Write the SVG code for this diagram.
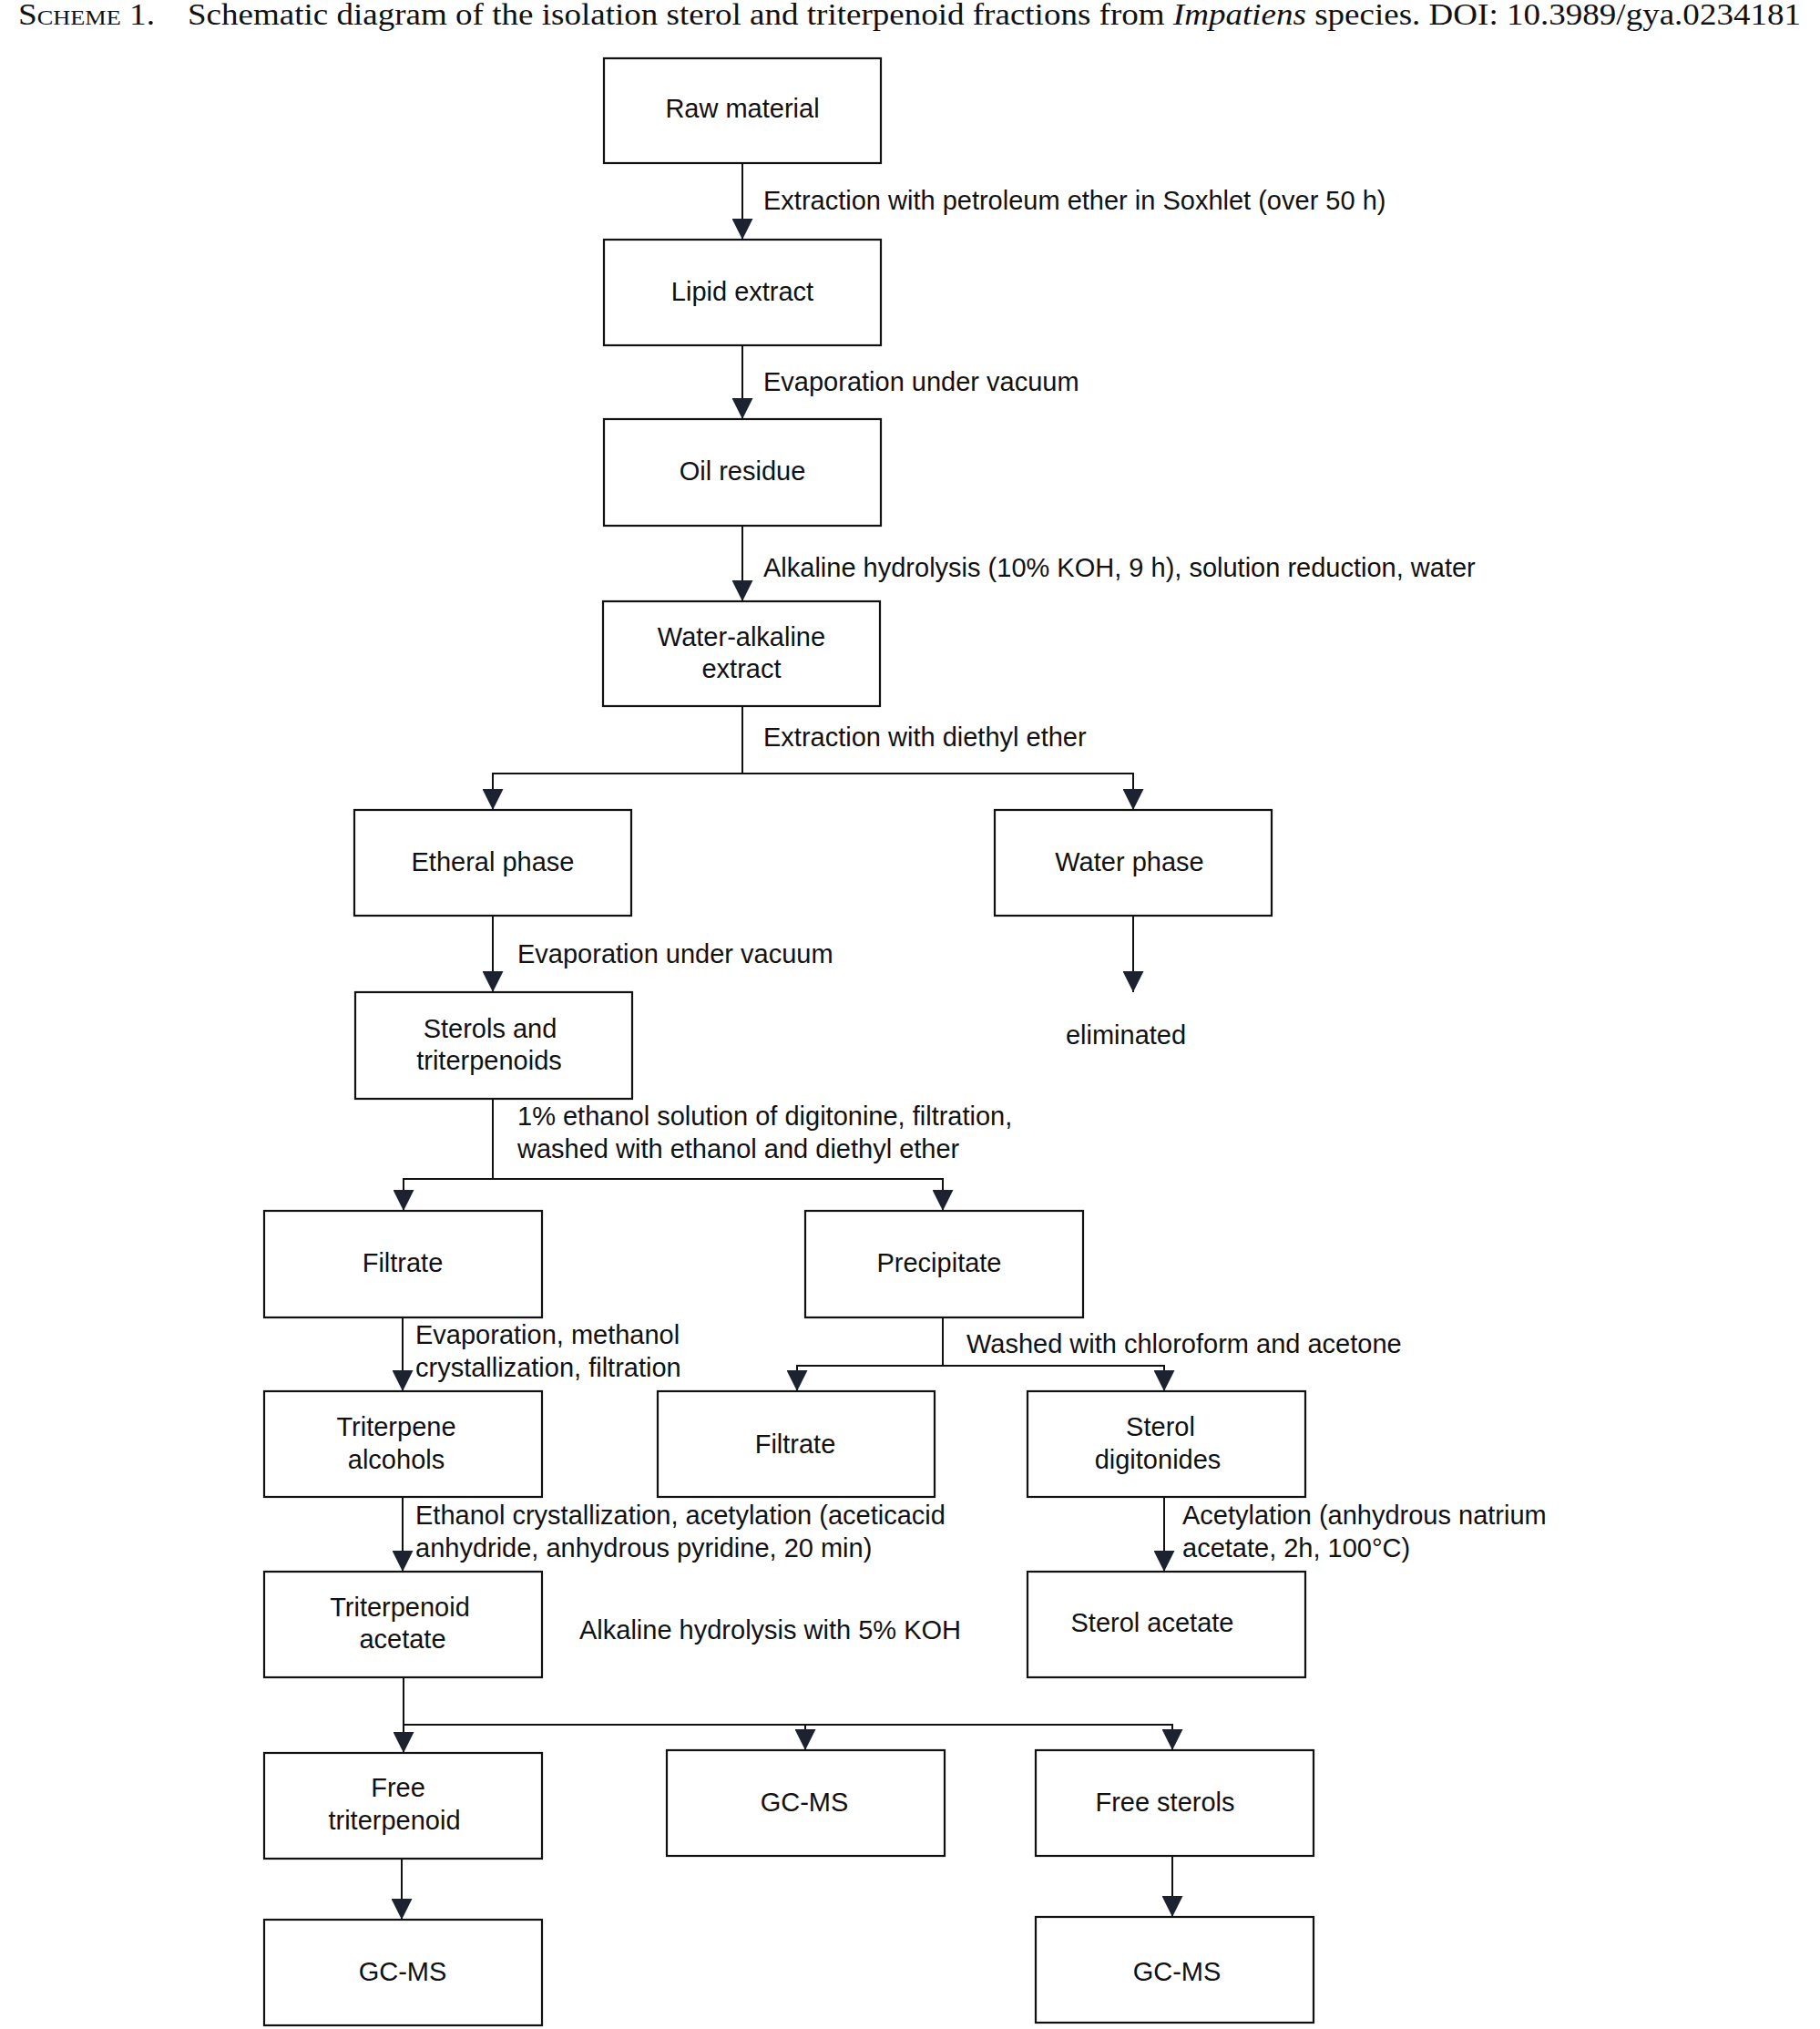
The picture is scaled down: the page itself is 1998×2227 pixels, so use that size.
<svg xmlns="http://www.w3.org/2000/svg" width="1998" height="2227" viewBox="0 0 1998 2227">
<style>
.box{fill:#fff;stroke:#111;stroke-width:2.2}
.ln{fill:none;stroke:#111;stroke-width:2}
.t{font-family:"Liberation Sans",Arial,sans-serif;font-size:29px;fill:#111}
.c{text-anchor:middle}
.title{font-family:"Liberation Serif","Times New Roman",serif;font-size:34px;fill:#111}
</style>
<defs>
<marker id="ah" markerWidth="23" markerHeight="23" refX="23" refY="11.5" orient="auto" markerUnits="userSpaceOnUse" viewBox="0 0 23 23">
<path d="M0,0 L23,11.5 L0,23 Z" fill="#1c2230"/>
</marker>
</defs>
<rect width="1998" height="2227" fill="#fff"/>
<text class="title" x="20" y="27"><tspan font-variant="small-caps" textLength="150" lengthAdjust="spacingAndGlyphs">Scheme 1.</tspan></text>
<text class="title" x="206" y="27" textLength="1771" lengthAdjust="spacingAndGlyphs">Schematic diagram of the isolation sterol and triterpenoid fractions from <tspan font-style="italic">Impatiens</tspan> species. DOI: 10.3989/gya.0234181</text>

<g id="connectors">
<line class="ln" x1="815" y1="179" x2="815" y2="263" marker-end="url(#ah)"/>
<line class="ln" x1="815" y1="379" x2="815" y2="460" marker-end="url(#ah)"/>
<line class="ln" x1="815" y1="577" x2="815" y2="660" marker-end="url(#ah)"/>
<line class="ln" x1="815" y1="775" x2="815" y2="849"/>
<polyline class="ln" points="541,860 541,849 1244,849 1244,860"/>
<line class="ln" x1="541" y1="849" x2="541" y2="889" marker-end="url(#ah)"/>
<line class="ln" x1="1244" y1="849" x2="1244" y2="889" marker-end="url(#ah)"/>
<line class="ln" x1="1244" y1="1005" x2="1244" y2="1089" marker-end="url(#ah)"/>
<line class="ln" x1="541" y1="1005" x2="541" y2="1089" marker-end="url(#ah)"/>
<line class="ln" x1="541" y1="1206" x2="541" y2="1294"/>
<polyline class="ln" points="443,1300 443,1294 1035,1294 1035,1300"/>
<line class="ln" x1="443" y1="1294" x2="443" y2="1329" marker-end="url(#ah)"/>
<line class="ln" x1="1035" y1="1294" x2="1035" y2="1329" marker-end="url(#ah)"/>
<line class="ln" x1="442" y1="1446" x2="442" y2="1527" marker-end="url(#ah)"/>
<line class="ln" x1="1035" y1="1446" x2="1035" y2="1499"/>
<polyline class="ln" points="875,1505 875,1499 1278,1499 1278,1505"/>
<line class="ln" x1="875" y1="1499" x2="875" y2="1527" marker-end="url(#ah)"/>
<line class="ln" x1="1278" y1="1499" x2="1278" y2="1527" marker-end="url(#ah)"/>
<line class="ln" x1="442" y1="1643" x2="442" y2="1725" marker-end="url(#ah)"/>
<line class="ln" x1="1278" y1="1643" x2="1278" y2="1725" marker-end="url(#ah)"/>
<line class="ln" x1="443" y1="1841" x2="443" y2="1893"/>
<polyline class="ln" points="443,1893 1287,1893 1287,1900"/>
<line class="ln" x1="443" y1="1893" x2="443" y2="1924" marker-end="url(#ah)"/>
<line class="ln" x1="884" y1="1893" x2="884" y2="1921" marker-end="url(#ah)"/>
<line class="ln" x1="1287" y1="1893" x2="1287" y2="1921" marker-end="url(#ah)"/>
<line class="ln" x1="441" y1="2039" x2="441" y2="2107" marker-end="url(#ah)"/>
<line class="ln" x1="1287" y1="2037" x2="1287" y2="2104" marker-end="url(#ah)"/>
</g>

<g id="edge-labels" class="t">
<text x="838" y="230">Extraction with petroleum ether in Soxhlet (over 50 h)</text>
<text x="838" y="429">Evaporation under vacuum</text>
<text x="838" y="633">Alkaline hydrolysis (10% KOH, 9 h), solution reduction, water</text>
<text x="838" y="819">Extraction with diethyl ether</text>
<text x="568" y="1057">Evaporation under vacuum</text>
<text x="568" y="1235">1% ethanol solution of digitonine, filtration,</text>
<text x="568" y="1271">washed with ethanol and diethyl ether</text>
<text x="456" y="1475">Evaporation, methanol</text>
<text x="456" y="1511">crystallization, filtration</text>
<text x="1061" y="1485">Washed with chloroform and acetone</text>
<text x="456" y="1673">Ethanol crystallization, acetylation (aceticacid</text>
<text x="456" y="1709">anhydride, anhydrous pyridine, 20 min)</text>
<text x="1298" y="1673">Acetylation (anhydrous natrium</text>
<text x="1298" y="1709">acetate, 2h, 100°C)</text>
<text x="636" y="1799">Alkaline hydrolysis with 5% KOH</text>
<text class="c" x="1236" y="1146">eliminated</text>
</g>

<g id="n-raw"><rect class="box" x="663" y="64" width="304" height="115"/><text class="t c" x="815" y="129">Raw material</text></g>
<g id="n-lipid"><rect class="box" x="663" y="263" width="304" height="116"/><text class="t c" x="815" y="330">Lipid extract</text></g>
<g id="n-oil"><rect class="box" x="663" y="460" width="304" height="117"/><text class="t c" x="815" y="527">Oil residue</text></g>
<g id="n-wae"><rect class="box" x="662" y="660" width="304" height="115"/><text class="t c" x="814" y="709">Water-alkaline</text><text class="t c" x="814" y="744">extract</text></g>
<g id="n-etheral"><rect class="box" x="389" y="889" width="304" height="116"/><text class="t c" x="541" y="956">Etheral phase</text></g>
<g id="n-water"><rect class="box" x="1092" y="889" width="304" height="116"/><text class="t c" x="1240" y="956">Water phase</text></g>
<g id="n-sterols"><rect class="box" x="390" y="1089" width="304" height="117"/><text class="t c" x="538" y="1139">Sterols and</text><text class="t c" x="537" y="1174">triterpenoids</text></g>
<g id="n-filtrate1"><rect class="box" x="290" y="1329" width="305" height="117"/><text class="t c" x="442" y="1396">Filtrate</text></g>
<g id="n-precip"><rect class="box" x="884" y="1329" width="305" height="117"/><text class="t c" x="1031" y="1396">Precipitate</text></g>
<g id="n-tralc"><rect class="box" x="290" y="1527" width="305" height="116"/><text class="t c" x="435" y="1576">Triterpene</text><text class="t c" x="435" y="1612">alcohols</text></g>
<g id="n-filtrate2"><rect class="box" x="722" y="1527" width="304" height="116"/><text class="t c" x="873" y="1595">Filtrate</text></g>
<g id="n-stdig"><rect class="box" x="1128" y="1527" width="305" height="116"/><text class="t c" x="1274" y="1576">Sterol</text><text class="t c" x="1271" y="1612">digitonides</text></g>
<g id="n-tracet"><rect class="box" x="290" y="1725" width="305" height="116"/><text class="t c" x="439" y="1774">Triterpenoid</text><text class="t c" x="442" y="1809">acetate</text></g>
<g id="n-stacet"><rect class="box" x="1128" y="1725" width="305" height="116"/><text class="t c" x="1265" y="1791">Sterol acetate</text></g>
<g id="n-freetr"><rect class="box" x="290" y="1924" width="305" height="116"/><text class="t c" x="437" y="1972">Free</text><text class="t c" x="433" y="2008">triterpenoid</text></g>
<g id="n-gcms1"><rect class="box" x="732" y="1921" width="305" height="116"/><text class="t c" x="883" y="1988">GC-MS</text></g>
<g id="n-freest"><rect class="box" x="1137" y="1921" width="305" height="116"/><text class="t c" x="1279" y="1988">Free sterols</text></g>
<g id="n-gcms2"><rect class="box" x="290" y="2107" width="305" height="116"/><text class="t c" x="442" y="2174">GC-MS</text></g>
<g id="n-gcms3"><rect class="box" x="1137" y="2104" width="305" height="116"/><text class="t c" x="1292" y="2174">GC-MS</text></g>
</svg>
